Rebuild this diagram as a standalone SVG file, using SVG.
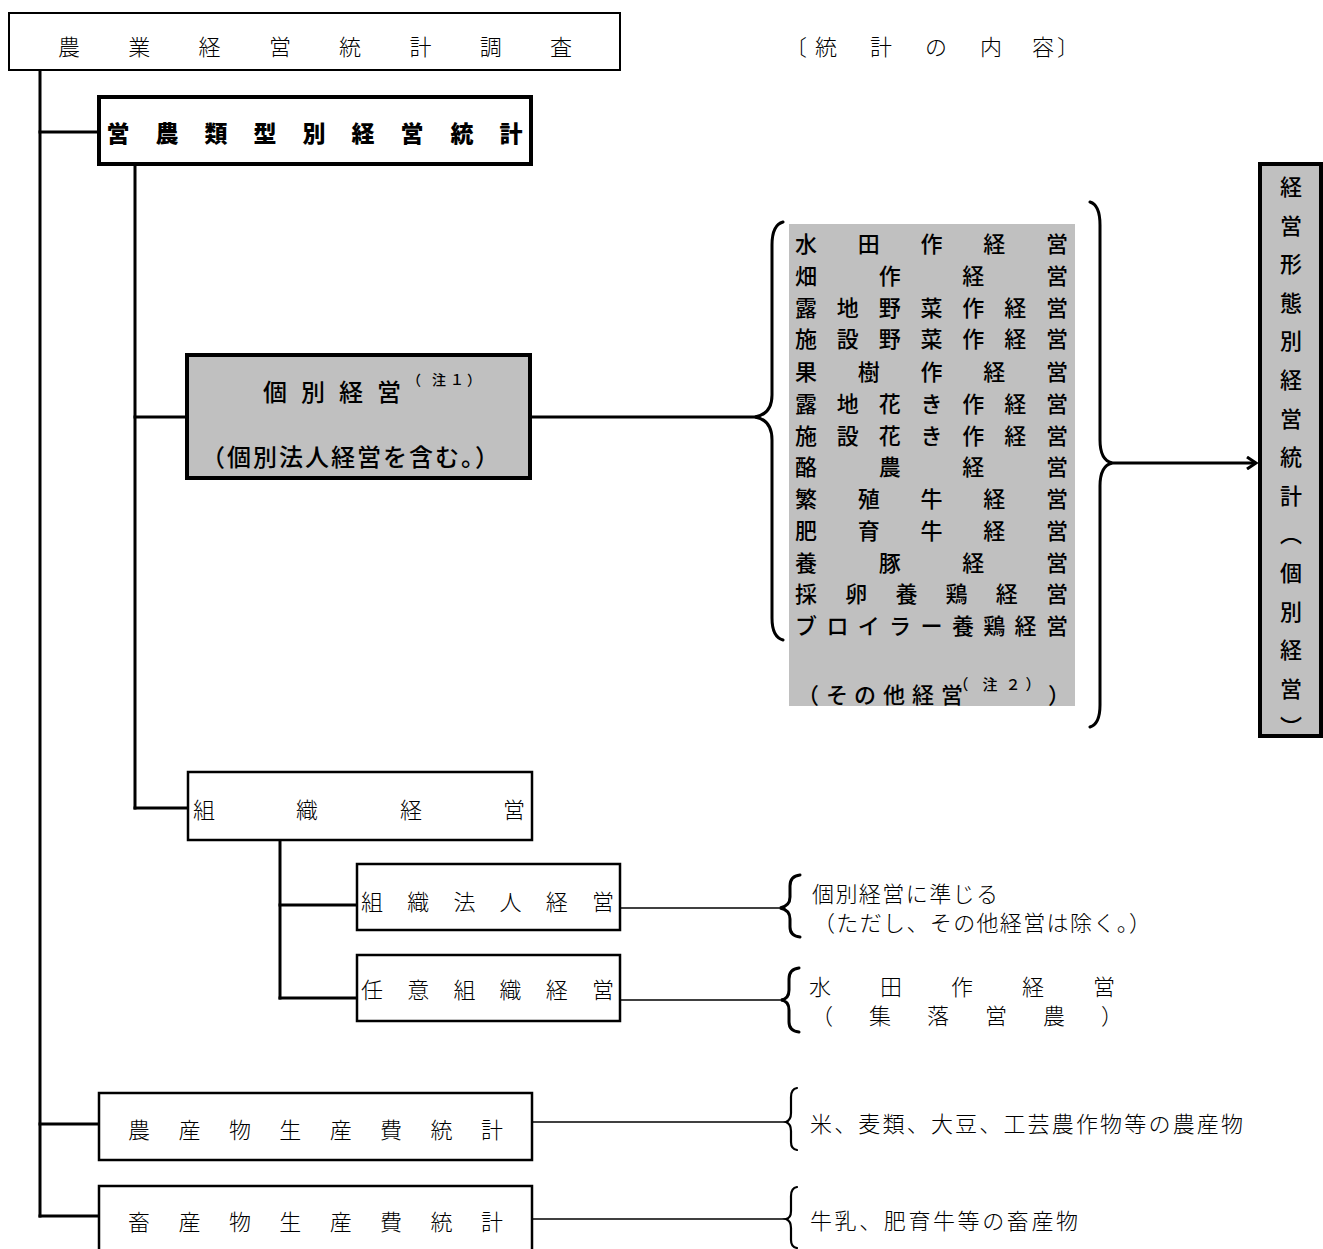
<svg xmlns="http://www.w3.org/2000/svg" width="1323" height="1249" viewBox="0 0 1323 1249">
<defs>
<style>
.box{fill:#fff;stroke:#000;stroke-width:2.5}
.bold{stroke-width:4}
.gray{fill:#c0c0c0}
.ln{stroke:#000;stroke-width:3;fill:none}
.thin{stroke:#000;stroke-width:1.5;fill:none}
.br{stroke:#000;stroke-width:3;fill:none;stroke-linecap:round}
text{font-family:"Noto Sans CJK JP","Noto Sans CJK SC",sans-serif;dominant-baseline:central;fill:#000}
.m{font-size:22px;font-weight:300}
.g{font-size:22px;font-weight:500}
.c{text-anchor:middle}
.sup{font-size:14px}
</style>
<marker id="arr" markerWidth="14" markerHeight="14" refX="11" refY="7" orient="auto" markerUnits="userSpaceOnUse">
<path d="M2,1 L11,7 L2,13" fill="none" stroke="#000" stroke-width="3"/>
</marker>
</defs>
<rect width="1323" height="1249" fill="#fff"/>

<g id="connectors">
<line class="ln" x1="40" y1="71" x2="40" y2="1217.5"/>
<line class="ln" x1="38.5" y1="132" x2="98" y2="132"/>
<line class="ln" x1="38.5" y1="1124" x2="99" y2="1124"/>
<line class="ln" x1="38.5" y1="1216" x2="99" y2="1216"/>
<line class="ln" x1="135" y1="166" x2="135" y2="809.5"/>
<line class="ln" x1="133.5" y1="417" x2="186" y2="417"/>
<line class="ln" x1="133.5" y1="808" x2="188" y2="808"/>
<line class="ln" x1="280" y1="841" x2="280" y2="999.5"/>
<line class="ln" x1="278.5" y1="905" x2="357" y2="905"/>
<line class="ln" x1="278.5" y1="998" x2="357" y2="998"/>
<line class="ln" x1="532" y1="417" x2="756" y2="417"/>
<line class="thin" x1="621" y1="908" x2="781" y2="908"/>
<line class="thin" x1="621" y1="1000" x2="783" y2="1000"/>
<line class="thin" x1="533" y1="1122" x2="787" y2="1122"/>
<line class="thin" x1="533" y1="1219" x2="787" y2="1219"/>
<line class="ln" x1="1111" y1="463" x2="1256" y2="463" marker-end="url(#arr)"/>
<path class="br" d="M783 222 Q772 225 772 245 L772 395 Q772 414 755 417 Q772 420 772 440 L772 618 Q772 637 783 640"/>
<path class="br" d="M1090 202 Q1100 205 1100 225 L1100 440 Q1100 460 1112 463 Q1100 466 1100 486 L1100 705 Q1100 724 1090 727"/>
<path class="br" d="M800 875 Q790 876 790 886 L790 897 Q790 906 780 908 Q790 910 790 919 L790 927 Q790 936 800 937"/>
<path class="br" d="M799 968 Q789 969 789 979 L789 990 Q789 999 781 1000 Q789 1001 789 1010 L789 1022 Q789 1031 799 1032"/>
<path class="br" style="stroke-width:2.2" d="M797 1088 Q791 1089 791 1097 L791 1113 Q791 1120 786 1122 Q791 1124 791 1131 L791 1142 Q791 1149 797 1150"/>
<path class="br" style="stroke-width:2.2" d="M797 1187 Q791 1188 791 1196 L791 1211 Q791 1218 786 1219 Q791 1221 791 1228 L791 1240 Q791 1247 797 1248"/>
</g>

<g id="n-survey">
<rect class="box" style="stroke-width:2" x="9" y="13" width="611" height="57"/>
<text class="m c" x="69 139.3 209.6 279.9 350.1 420.4 490.7 561" y="45">農業経営統計調査</text>
</g>

<g id="n-contents">
<text class="m c" x="796 826 881 936 991 1043 1068" y="45">〔統計の内容〕</text>
</g>

<g id="n-type">
<rect class="box bold" x="99" y="97" width="432" height="67"/>
<text class="g c" style="font-weight:900;font-size:23px" x="118 167 216 265 314 363 412 462 511" y="132">営農類型別経営統計</text>
</g>

<g id="n-individual">
<rect class="box bold gray" x="187" y="355" width="343" height="123"/>
<text class="g c" style="font-size:24px" x="275 313 351 389" y="390">個別経営</text>
<text class="g c sup" x="414 439 457 474" y="379">（注１）</text>
<text class="g c" style="font-size:24px;letter-spacing:2px" x="351" y="455">（個別法人経営を含む。）</text>
</g>

<g id="n-list">
<rect class="gray" x="789" y="224" width="286" height="482"/>
<text class="g c" x="806 868.75 931.5 994.25 1057" y="242">水田作経営</text>
<text class="g c" x="806 889.7 973.3 1057" y="274">畑作経営</text>
<text class="g c" x="806 847.8 889.7 931.5 973.3 1015.2 1057" y="306">露地野菜作経営</text>
<text class="g c" x="806 847.8 889.7 931.5 973.3 1015.2 1057" y="337">施設野菜作経営</text>
<text class="g c" x="806 868.75 931.5 994.25 1057" y="370">果樹作経営</text>
<text class="g c" x="806 847.8 889.7 931.5 973.3 1015.2 1057" y="402">露地花き作経営</text>
<text class="g c" x="806 847.8 889.7 931.5 973.3 1015.2 1057" y="434">施設花き作経営</text>
<text class="g c" x="806 889.7 973.3 1057" y="465">酪農経営</text>
<text class="g c" x="806 868.75 931.5 994.25 1057" y="497">繁殖牛経営</text>
<text class="g c" x="806 868.75 931.5 994.25 1057" y="529">肥育牛経営</text>
<text class="g c" x="806 889.7 973.3 1057" y="561">養豚経営</text>
<text class="g c" x="806 856.2 906.4 956.6 1006.8 1057" y="592">採卵養鶏経営</text>
<text class="g c" x="806 837.4 868.75 900.1 931.5 962.9 994.25 1025.6 1057" y="624">ブロイラー養鶏経営</text>
<text class="g c" x="808 837 865 894 923 952" y="693">（その他経営</text>
<text class="g c sup" style="font-size:15px" x="961 990 1013 1033" y="683">（注２）</text>
<text class="g c" x="1059" y="693">）</text>
</g>

<g id="n-result">
<rect class="box bold gray" x="1260" y="164" width="61" height="572"/>
<text class="g c" x="1291 1291 1291 1291 1291 1291 1291 1291 1291 1291 1291 1291 1291 1291 1291" y="185 223.6 262.2 300.8 339.4 378 416.6 455.2 493.8 532.4 571 609.6 648.2 686.8 725.4">経営形態別経営統計︵個別経営︶</text>
</g>

<g id="n-org">
<rect class="box" x="188" y="772" width="344" height="68"/>
<text class="m c" x="204 307 411 514" y="808">組織経営</text>
</g>

<g id="n-orgcorp">
<rect class="box" x="357" y="864" width="263" height="66"/>
<text class="m c" x="372 418.2 464.4 510.6 556.8 603" y="900">組織法人経営</text>
</g>

<g id="n-orgvol">
<rect class="box" x="357" y="955" width="263" height="66"/>
<text class="m c" x="372 418.2 464.4 510.6 556.8 603" y="988">任意組織経営</text>
</g>

<g id="n-crop">
<rect class="box" x="99" y="1093" width="433" height="67"/>
<text class="m c" x="139 189.4 239.9 290.3 340.7 391.1 441.6 492" y="1128">農産物生産費統計</text>
</g>

<g id="n-livestock">
<rect class="box" x="99" y="1186" width="433" height="80"/>
<text class="m c" x="139 189.4 239.9 290.3 340.7 391.1 441.6 492" y="1220">畜産物生産費統計</text>
</g>

<g id="t-orgcorp">
<text class="m" x="812" y="892" textLength="186" lengthAdjust="spacing">個別経営に準じる</text>
<text class="m" x="813" y="921" textLength="338" lengthAdjust="spacing">（ただし、その他経営は除く。）</text>
</g>

<g id="t-orgvol">
<text class="m c" x="820 891 962 1033 1104" y="985">水田作経営</text>
<text class="m c" x="822 880 938 996 1054 1112" y="1014">（集落営農）</text>
</g>

<g id="t-crop">
<text class="m" x="810" y="1122" textLength="433" lengthAdjust="spacing">米、麦類、大豆、工芸農作物等の農産物</text>
</g>

<g id="t-livestock">
<text class="m" x="810" y="1219" textLength="268" lengthAdjust="spacing">牛乳、肥育牛等の畜産物</text>
</g>
</svg>
